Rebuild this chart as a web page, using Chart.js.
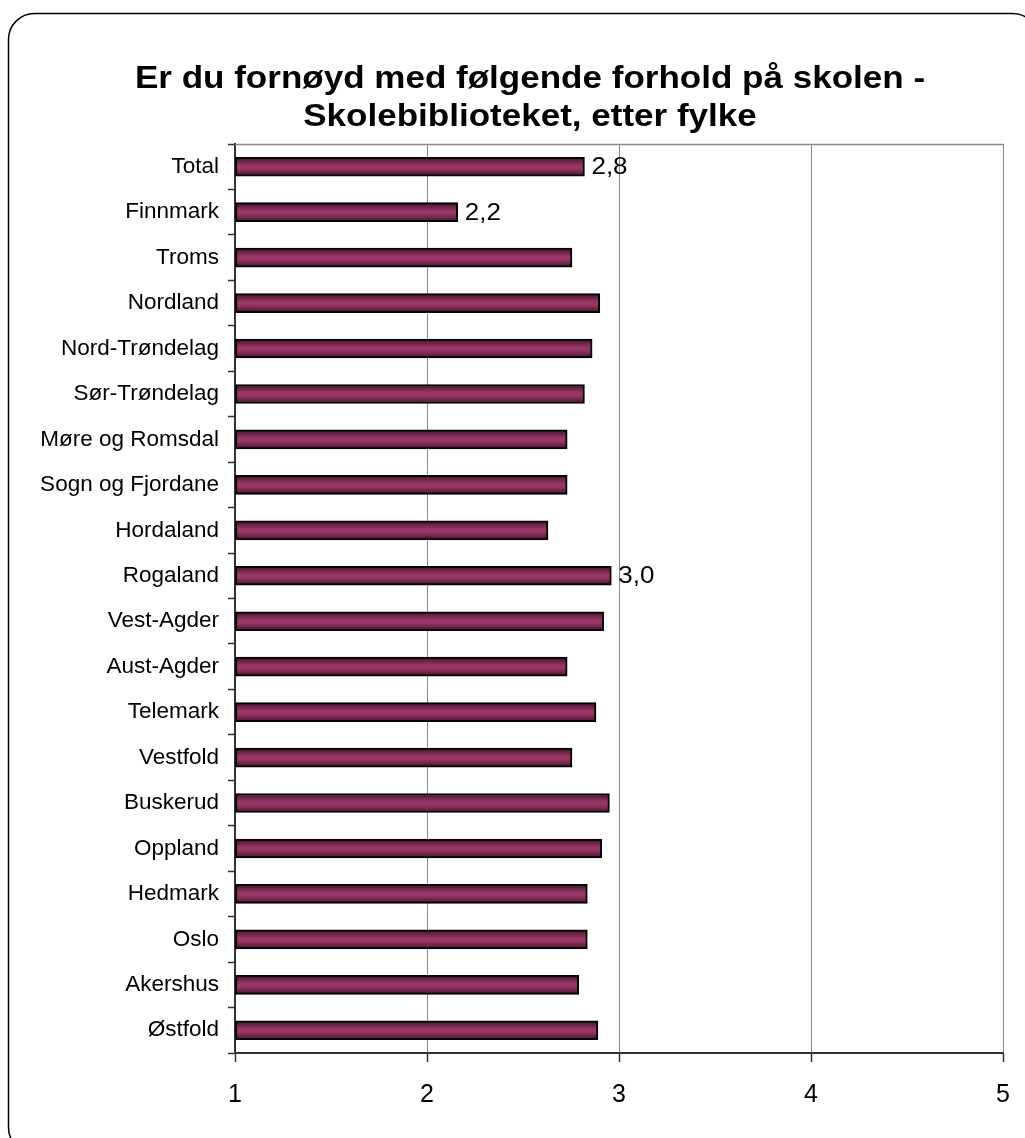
<!DOCTYPE html>
<html>
<head>
<meta charset="utf-8">
<script src="https://cdn.jsdelivr.net/npm/chart.js@4.4.1/dist/chart.umd.min.js"></script>
<style>
  html, body { margin: 0; padding: 0; background: #fff; }
  #wrap { width: 1025px; height: 1138px; position: relative; }
</style>
</head>
<body>
<div id="wrap"><canvas id="fylkeChart"></canvas></div>
<script>
// data
const categories = ['Total', 'Finnmark', 'Troms', 'Nordland', 'Nord-Trøndelag', 'Sør-Trøndelag',
  'Møre og Romsdal', 'Sogn og Fjordane', 'Hordaland', 'Rogaland', 'Vest-Agder', 'Aust-Agder',
  'Telemark', 'Vestfold', 'Buskerud', 'Oppland', 'Hedmark', 'Oslo', 'Akershus', 'Østfold'];
const values = [2.82, 2.16, 2.755, 2.90, 2.86, 2.82, 2.73, 2.73, 2.63, 2.96, 2.92, 2.73,
  2.88, 2.755, 2.95, 2.91, 2.835, 2.835, 2.79, 2.89];
const labelledCategories = ['Total', 'Finnmark', 'Rogaland'];
const xTicks = [1, 2, 3, 4, 5];
const titleLines = ['Er du fornøyd med følgende forhold på skolen -', 'Skolebiblioteket, etter fylke'];

const FONT = '"Liberation Sans", Arial, sans-serif';
const BAR_H = 19;
const STRETCH = 1.13; // the original text is a bit wider than plain Arial

// bar fill: horizontal bands, dark at the edges, lighter in the middle
function barFill(context) {
    const chart = context.chart;
    if (!chart.chartArea || !chart.scales.y) return '#993366';
    const yc = chart.scales.y.getPixelForValue(context.dataIndex);
    const g = chart.ctx.createLinearGradient(0, yc - BAR_H / 2, 0, yc + BAR_H / 2);
    g.addColorStop(0, '#3d0f28');
    g.addColorStop(0.22, '#6e2549');
    g.addColorStop(0.45, '#9a3867');
    g.addColorStop(0.6, '#973666');
    g.addColorStop(0.8, '#6e2549');
    g.addColorStop(1, '#3d0f28');
    return g;
}

// white background, rounded frame, title and top edge of the plot
const framePlugin = {
    id: 'frame',
    beforeDraw(chart) {
        const c = chart.ctx;
        c.save();
        c.fillStyle = '#fff';
        c.fillRect(0, 0, chart.width, chart.height);
        c.beginPath();
        c.roundRect(8.5, 13.5, 1030, 1140, 26);
        c.lineWidth = 1.5;
        c.strokeStyle = '#000';
        c.stroke();
        c.restore();
    },
    afterDraw(chart) {
        const a = chart.chartArea;
        const c = chart.ctx;
        c.save();
        c.strokeStyle = '#888';
        c.lineWidth = 1.5;
        c.beginPath();
        c.moveTo(a.left, a.top + 0.5);
        c.lineTo(a.right, a.top + 0.5);
        c.stroke();

        // title, two centred lines
        c.font = 'bold 31px ' + FONT;
        c.fillStyle = '#000';
        c.textAlign = 'center';
        c.textBaseline = 'middle';
        titleLines.forEach((line, i) => {
            c.save();
            c.translate(530, 79 + i * 38);
            c.scale(STRETCH, 1);
            c.fillText(line, 0, 0);
            c.restore();
        });
        c.restore();
    }
};

// value labels (only on a few bars, like the original)
const valueLabelPlugin = {
    id: 'valueLabels',
    afterDatasetsDraw(chart) {
        const c = chart.ctx;
        const meta = chart.getDatasetMeta(0);
        c.save();
        c.font = '23px ' + FONT;
        c.fillStyle = '#000';
        c.textAlign = 'left';
        c.textBaseline = 'middle';
        meta.data.forEach((bar, i) => {
            if (!labelledCategories.includes(categories[i])) return;
            const txt = values[i].toFixed(1).replace('.', ',');
            c.save();
            c.translate(bar.x + 7, bar.y + 1);
            c.scale(STRETCH, 1);
            c.fillText(txt, 0, 0);
            c.restore();
        });
        c.restore();
    }
};

new Chart(document.getElementById('fylkeChart'), {
    type: 'bar',
    data: {
        labels: categories,
        datasets: [{
            data: values,
            base: 1,
            backgroundColor: barFill,
            borderColor: '#000',
            borderWidth: 2,
            borderSkipped: false,
            barThickness: BAR_H
        }]
    },
    options: {
        indexAxis: 'y',
        responsive: true,
        maintainAspectRatio: false,
        animation: false,
        layout: { padding: { left: 10, right: 22, top: 144, bottom: 0 } },
        plugins: {
            legend: { display: false },
            tooltip: { enabled: false },
            title: { display: false }
        },
        scales: {
            x: {
                type: 'linear',
                min: 1,
                max: 5,
                afterBuildTicks(scale) { scale.ticks = xTicks.map(v => ({ value: v })); },
                afterFit(scale) {
                    scale.height = 85;
                    scale.paddingLeft = 0;
                    scale.paddingRight = 0;
                },
                border: { display: true, color: '#333', width: 2 },
                grid: { color: '#888', lineWidth: 1, tickLength: 9, tickColor: '#333', tickWidth: 1.5 },
                ticks: { color: '#000', padding: 18, font: { family: FONT, size: 25 } }
            },
            y: {
                afterFit(scale) { scale.width = 225; },
                border: { display: true, color: '#333', width: 2 },
                grid: { drawOnChartArea: false, offset: true, tickLength: 7, tickColor: '#333', tickWidth: 1.5 },
                ticks: { color: '#000', padding: 9, autoSkip: false, font: { family: FONT, size: 22.5 } }
            }
        }
    },
    plugins: [framePlugin, valueLabelPlugin]
});
</script>
</body>
</html>
